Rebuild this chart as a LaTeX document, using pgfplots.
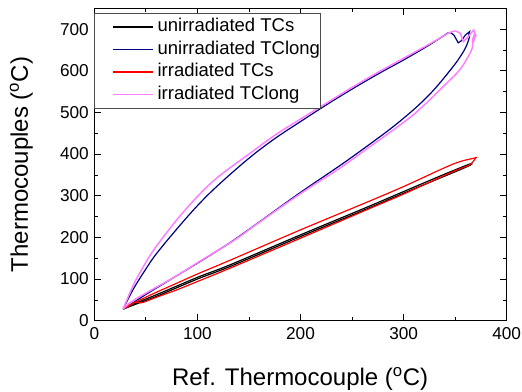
\documentclass[border=0pt]{standalone}
\usepackage{pgfplots}
\pgfplotsset{compat=1.18}
\usepackage{fontspec}
\setmainfont{Liberation Sans}
\definecolor{navyc}{RGB}{0,0,128}
\definecolor{pinkc}{RGB}{255,128,255}
\begin{document}
\begin{tikzpicture}
\begin{axis}[name=ax,
  scale only axis, width=412.4pt, height=312.4pt,
  xmin=0, xmax=400, ymin=0, ymax=750,
  xtick={0,100,...,400}, ytick={0,100,...,700},
  minor x tick num=1, minor y tick num=1,
  tick align=inside, major tick length=7pt, minor tick length=4pt,
  tick style={black, line width=0.7pt},
  axis line style={line width=0.8pt},
  /pgf/number format/assume math mode=true,
  ticklabel style={font=\fontsize{17.2}{19}\selectfont},
  xticklabel style={yshift=-3pt},
  yticklabel style={xshift=-2pt},
  xlabel={Ref. Thermocouple (\textsuperscript{o}C)},
  ylabel={Thermocouples (\textsuperscript{o}C)},
  label style={font=\fontsize{24}{28}\selectfont},
  xlabel style={at={(axis description cs:0.499,-0.188)}, anchor=center},
  ylabel style={at={(axis description cs:-0.177,0.5)}, anchor=center, rotate=0},
  legend style={at={(axis description cs:0,0.984)}, anchor=north west,
    draw=black!70, line width=0.6pt, inner xsep=0pt, inner ysep=5pt,
    font=\fontsize{18.5}{21}\selectfont, row sep=5.5pt,
    nodes={inner sep=0pt, text height=13pt, text depth=4pt}},
  legend cell align=left,
  legend image code/.code={\path[draw=none] (0pt,0pt) -- (63pt,0pt); \draw[#1,line width=1.2pt] (18pt,0pt) -- (58pt,0pt);},
]
% unirradiated TCs (black)
\addplot[black, line width=1.2pt, smooth, tension=0.5] coordinates {
(28,28)(40,42)(60,62)(100,104)(131.6,134)(200,206)(264,272)(300,310)(340,352)(363,375)(365,376)};
\addlegendentry{unirradiated TCs\hspace{9pt}}
\addplot[black, line width=1.2pt, smooth, tension=0.5, forget plot] coordinates {
(365,376)(360,368)(300,306)(264,268)(200,202)(131.6,130)(100,100)(60,58)(45,44)(28,28)};
% unirradiated TClong (navy)
\addplot[navyc, line width=1.2pt, smooth, tension=0.6] coordinates {
(28,28)(34,58)(40,85)(50,124)(60,160)(80,220)(100,276)(120,325)(150,390)(175,437)(200,478)
(225,518)(250,556)(275,592)(300,626)(325,662)(343,691)};
\addlegendentry{unirradiated TClong\hspace{9pt}}
\addplot[navyc, line width=1.2pt, forget plot] coordinates {
(343,691)(346,691)(349,685)(353,667)(356,672)(360,686)(364,694)(363,684)(364,682)};
\addplot[navyc, line width=1.2pt, smooth, tension=0.6, forget plot] coordinates {
(364,682)(361,660)(356,638)(348,610)(330,556)(313,514)(290,466)(264,418)(238,372)(200,308)
(160,237)(135,193)(115,161)(100,138)(80,108)(60,78)(50,63)(40,47)(28,28)};
% irradiated TCs (red)
\addplot[red, line width=1.2pt, smooth, tension=0.5] coordinates {
(30,30)(36,40)(42,47)(60,68)(80,90)(100,112)(131.6,145)(200,218)(264,284)(300,322)(348,376)
(368,390)(370,391)};
\addlegendentry{irradiated TCs}
\addplot[red, line width=1.2pt, smooth, tension=0.5, forget plot] coordinates {
(370,391)(364,374)(348,358)(300,304)(264,266)(200,198)(131.6,126)(100,94)(80,74)(60,56)
(46,43)(40,45)(35,38)(30,30)};
% irradiated TClong (pink)
\addplot[pinkc, line width=1.5pt, smooth, tension=0.6] coordinates {
(28,28)(34,64)(40,96)(50,140)(60,178)(80,242)(100,298)(120,345)(150,400)(175,445)(200,484)
(225,522)(250,560)(275,596)(300,630)(325,664)(345,692)(351,695)};
\addlegendentry{irradiated TClong}
\addplot[pinkc, line width=1.5pt, forget plot] coordinates {
(351,695)(355,690)(358,670)(362,680)(366,692)(368,698)(370,685)(367,665)(369,690)(367,675)(367,660)};
\addplot[pinkc, line width=1.5pt, smooth, tension=0.6, forget plot] coordinates {
(367,660)(365,645)(355,604)(340,566)(313,502)(290,458)(264,412)(238,366)(200,305)(160,236)
(135,192)(100,139)(80,108)(60,80)(50,66)(40,52)(33,40)(28,28)};
\end{axis}
\pgfresetboundingbox
\path ([shift={(-94.3pt,-71.3pt)}]ax.south west) rectangle ([shift={(15.3pt,8.3pt)}]ax.north east);
\end{tikzpicture}
\end{document}
